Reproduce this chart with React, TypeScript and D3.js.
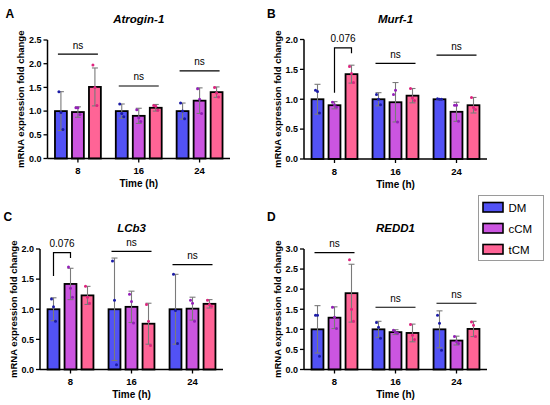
import * as d3 from "d3";

// groups on the x axis and the three conditions
const groups = ["8", "16", "24"];
const series = ["DM", "cCM", "tCM"];
const colors = ["#5252F5", "#CB55E0", "#FF6496"];
const dotColors = ["#1B1BA6", "#9420B8", "#E0247F"];

// mean per [group][series]
const atroginMean = [[1.0, 0.98, 1.51], [1.0, 0.9, 1.07], [1.0, 1.22, 1.4]];
const atroginSd = [[0.41, 0.11, 0.4], [0.15, 0.16, 0.07], [0.17, 0.27, 0.11]];
const atroginPts = [
  [[1.41, 0.97, 0.61], [1.07, 1.07, 0.93], [1.97, 1.5, 1.12]],
  [[1.15, 0.95, 0.88], [1.03, 0.86, 0.78], [1.12, 1.1, 1.02]],
  [[1.17, 1.0, 0.84], [1.47, 1.25, 0.95], [1.5, 1.38, 1.3]],
];

const murfMean = [[1.0, 0.9, 1.42], [1.0, 0.95, 1.06], [1.0, 0.79, 0.9]];
const murfSd = [[0.25, 0.06, 0.15], [0.11, 0.33, 0.12], [0.01, 0.16, 0.13]];
const murfPts = [
  [[1.15, 1.13, 0.77], [0.95, 0.91, 0.87], [1.55, 1.43, 1.28]],
  [[1.08, 1.0, 0.91], [1.08, 1.15, 0.62], [1.18, 1.02, 0.98]],
  [[1.01, 1.0, 1.0], [0.9, 0.9, 0.63], [1.03, 0.86, 0.83]],
];

const lcb3Mean = [[1.0, 1.42, 1.23], [1.0, 1.04, 0.76], [1.0, 1.01, 1.09]];
const lcb3Sd = [[0.19, 0.26, 0.15], [0.85, 0.26, 0.34], [0.58, 0.19, 0.07]];
const lcb3Pts = [
  [[1.17, 1.04, 0.8], [1.7, 1.35, 1.2], [1.38, 1.2, 1.1]],
  [[1.8, 1.15, 0.08], [1.25, 1.13, 0.77], [1.08, 0.8, 0.4]],
  [[1.58, 0.98, 0.43], [1.15, 1.1, 0.8], [1.15, 1.08, 1.05]],
];

const redd1Mean = [[1.0, 1.29, 1.9], [1.0, 0.93, 0.91], [1.0, 0.72, 1.01]];
const redd1Sd = [[0.59, 0.27, 0.72], [0.2, 0.06, 0.22], [0.46, 0.11, 0.19]];
const redd1Pts = [
  [[1.35, 1.35, 0.33], [1.55, 1.3, 1.02], [2.73, 1.5, 1.2]],
  [[1.17, 1.05, 0.78], [0.98, 0.93, 0.9], [1.12, 0.85, 0.75]],
  [[1.35, 1.15, 0.48], [0.82, 0.7, 0.65], [1.18, 1.1, 0.82]],
];

// significance marks: group, from series, to series, height, label, bracket legs
type Sig = { g: number; a: number; b: number; y: number; label: string; legs?: [number, number] };
const atroginSig: Sig[] = [
  { g: 0, a: 0, b: 2, y: 2.2, label: "ns" },
  { g: 1, a: 0, b: 2, y: 1.53, label: "ns" },
  { g: 2, a: 0, b: 2, y: 1.85, label: "ns" },
];
const murfSig: Sig[] = [
  { g: 0, a: 1, b: 2, y: 1.86, label: "0.076", legs: [1.11, 1.77] },
  { g: 1, a: 0, b: 2, y: 1.6, label: "ns" },
  { g: 2, a: 0, b: 2, y: 1.74, label: "ns" },
];
const lcb3Sig: Sig[] = [
  { g: 0, a: 0, b: 1, y: 1.94, label: "0.076", legs: [1.55, 1.85] },
  { g: 1, a: 0, b: 2, y: 1.96, label: "ns" },
  { g: 2, a: 0, b: 2, y: 1.74, label: "ns" },
];
const redd1Sig: Sig[] = [
  { g: 0, a: 0, b: 2, y: 2.91, label: "ns" },
  { g: 1, a: 0, b: 2, y: 1.55, label: "ns" },
  { g: 2, a: 0, b: 2, y: 1.65, label: "ns" },
];

const FONT = "'Liberation Sans', Arial, sans-serif";

type PanelProps = {
  letter: string;
  title: string;
  mean: number[][];
  sd: number[][];
  pts: number[][][];
  sig: Sig[];
  yMax: number;
  x0: number;
  x1: number;
  yTop: number;
  yBot: number;
  letterX: number;
  letterY: number;
  labelX: number;
};

function Panel(p: PanelProps) {
  const x = d3.scaleBand<string>().domain(groups).range([p.x0, p.x1]);
  const inner = d3
    .scaleBand<string>()
    .domain(series)
    .range([-25.5, 25.5])
    .paddingInner(0.3)
    .paddingOuter(0.15);
  const y = d3.scaleLinear().domain([0, p.yMax]).range([p.yBot, p.yTop]);
  const ticks = d3.range(0, p.yMax + 0.001, 0.5);
  const bw = inner.bandwidth();
  const cx = (g: number, s: number) =>
    (x(groups[g]) as number) + x.bandwidth() / 2 + (inner(series[s]) as number) + bw / 2;
  const midY = (p.yTop + p.yBot) / 2;

  return (
    <g fontFamily={FONT}>
      <text x={p.letterX} y={p.letterY} fontSize={12} fontWeight="bold">
        {p.letter}
      </text>
      <text
        x={(p.x0 + p.x1) / 2}
        y={p.yTop - 17}
        textAnchor="middle"
        fontSize={11.5}
        fontWeight="bold"
        fontStyle="italic"
      >
        {p.title}
      </text>
      <text
        transform={`translate(${p.labelX},${midY}) rotate(-90)`}
        textAnchor="middle"
        fontSize={9.5}
        fontWeight="bold"
      >
        mRNA expression fold change
      </text>

      {/* bars */}
      {p.mean.map((row, g) =>
        row.map((v, s) => (
          <rect
            key={`b${g}${s}`}
            x={cx(g, s) - bw / 2}
            y={y(v)}
            width={bw}
            height={y(0) - y(v)}
            fill={colors[s]}
            stroke="#000"
            strokeWidth={1.8}
          />
        ))
      )}
      {/* error bars */}
      {p.mean.map((row, g) =>
        row.map((v, s) => {
          const c = cx(g, s);
          const hi = y(v + p.sd[g][s]);
          const lo = y(Math.max(0, v - p.sd[g][s]));
          return (
            <g key={`e${g}${s}`} stroke="#7A7A7A" strokeWidth={1.1}>
              <line x1={c} x2={c} y1={hi} y2={lo} />
              <line x1={c - 3} x2={c + 3} y1={hi} y2={hi} />
              <line x1={c - 3} x2={c + 3} y1={lo} y2={lo} />
            </g>
          );
        })
      )}
      {/* individual points */}
      {p.pts.map((row, g) =>
        row.map((vals, s) =>
          vals.map((v, k) => (
            <circle
              key={`p${g}${s}${k}`}
              cx={cx(g, s) + (k - 1) * 2}
              cy={y(v)}
              r={1.5}
              fill={dotColors[s]}
            />
          ))
        )
      )}

      {/* y axis */}
      <line x1={p.x0} x2={p.x0} y1={p.yTop} y2={p.yBot} stroke="#000" strokeWidth={1.5} />
      {ticks.map((t) => (
        <g key={`t${t}`}>
          <line x1={p.x0 - 4} x2={p.x0} y1={y(t)} y2={y(t)} stroke="#000" strokeWidth={1.3} />
          <text x={p.x0 - 6} y={y(t) + 3.3} textAnchor="end" fontSize={9} fontWeight="bold">
            {d3.format(".1f")(t)}
          </text>
        </g>
      ))}
      {/* x axis */}
      <line x1={p.x0} x2={p.x1} y1={p.yBot} y2={p.yBot} stroke="#000" strokeWidth={1.5} />
      {groups.map((gname) => {
        const c = (x(gname) as number) + x.bandwidth() / 2;
        return (
          <g key={`x${gname}`}>
            <line x1={c} x2={c} y1={p.yBot} y2={p.yBot + 4} stroke="#000" strokeWidth={1.3} />
            <text x={c} y={p.yBot + 15.5} textAnchor="middle" fontSize={9.5} fontWeight="bold">
              {gname}
            </text>
          </g>
        );
      })}
      <text
        x={(p.x0 + p.x1) / 2}
        y={p.yBot + 28.5}
        textAnchor="middle"
        fontSize={10}
        fontWeight="bold"
      >
        Time (h)
      </text>

      {/* significance */}
      {p.sig.map((sg, i) => {
        const yy = y(sg.y);
        if (sg.legs) {
          const xa = cx(sg.g, sg.a);
          const xb = cx(sg.g, sg.b);
          return (
            <g key={`s${i}`}>
              <path
                d={`M${xa},${y(sg.legs[0])}V${yy}H${xb}V${y(sg.legs[1])}`}
                fill="none"
                stroke="#000"
                strokeWidth={1.2}
              />
              <text x={(xa + xb) / 2} y={yy - 6} textAnchor="middle" fontSize={10}>
                {sg.label}
              </text>
            </g>
          );
        }
        const xa = cx(sg.g, sg.a) - 3;
        const xb = cx(sg.g, sg.b) + 3;
        return (
          <g key={`s${i}`}>
            <line x1={xa} x2={xb} y1={yy} y2={yy} stroke="#000" strokeWidth={1.2} />
            <text x={(xa + xb) / 2} y={yy - 5.5} textAnchor="middle" fontSize={10}>
              {sg.label}
            </text>
          </g>
        );
      })}
    </g>
  );
}

function Legend() {
  return (
    <g fontFamily={FONT}>
      <rect x={478.5} y={195.5} width={65} height={65} fill="#fff" stroke="#9A9A9A" strokeWidth={1} />
      {series.map((s, i) => (
        <g key={s}>
          <rect
            x={483}
            y={202.5 + i * 21}
            width={20}
            height={9.5}
            fill={colors[i]}
            stroke="#000"
            strokeWidth={1.6}
          />
          <text x={508.5} y={211.5 + i * 21} fontSize={11.5}>
            {s}
          </text>
        </g>
      ))}
    </g>
  );
}

export default function App() {
  return (
    <svg
      width={550}
      height={405}
      style={{ position: "absolute", left: 0, top: 0, background: "#fff" }}
    >
      <Panel
        letter="A"
        title="Atrogin-1"
        mean={atroginMean}
        sd={atroginSd}
        pts={atroginPts}
        sig={atroginSig}
        yMax={2.5}
        x0={47.5}
        x1={230}
        yTop={40}
        yBot={158.5}
        letterX={5.5}
        letterY={17.5}
        labelX={24}
      />
      <Panel
        letter="B"
        title="Murf-1"
        mean={murfMean}
        sd={murfSd}
        pts={murfPts}
        sig={murfSig}
        yMax={2.0}
        x0={304}
        x1={487}
        yTop={39.5}
        yBot={159}
        letterX={267}
        letterY={17.5}
        labelX={281}
      />
      <Panel
        letter="C"
        title="LCb3"
        mean={lcb3Mean}
        sd={lcb3Sd}
        pts={lcb3Pts}
        sig={lcb3Sig}
        yMax={2.0}
        x0={40}
        x1={223}
        yTop={249}
        yBot={369.5}
        letterX={3.5}
        letterY={221}
        labelX={17}
      />
      <Panel
        letter="D"
        title="REDD1"
        mean={redd1Mean}
        sd={redd1Sd}
        pts={redd1Pts}
        sig={redd1Sig}
        yMax={3.0}
        x0={304}
        x1={487}
        yTop={249}
        yBot={369.5}
        letterX={267}
        letterY={221}
        labelX={281}
      />
      <Legend />
    </svg>
  );
}
